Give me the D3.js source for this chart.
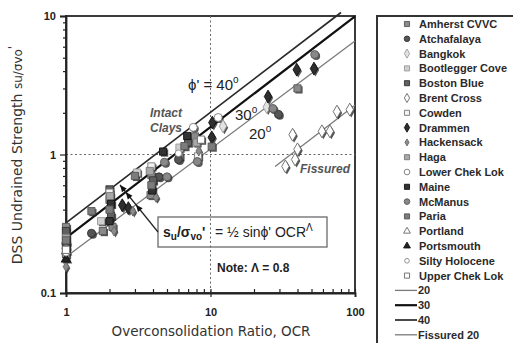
<!DOCTYPE html>
<html>
<head>
<meta charset="utf-8">
<script src="https://cdn.jsdelivr.net/npm/d3@7"></script>
<style>
  html, body { margin: 0; padding: 0; background: #fff; }
  svg { display: block; }
</style>
</head>
<body>
<svg id="chart" width="513" height="343"></svg>
<script>
// ---- Data: [OCR, su/σvo'] pairs for each clay ----
const amherstCVVC   = [[1,0.30],[1,0.19],[1.8,0.28],[2.0,0.47],[2.1,0.30],[3.9,0.71],[3.85,0.51],[6.1,0.97],[7.8,1.35],[40,3.0]];
const atchafalaya   = [[1,0.23],[1.5,0.27],[4.4,0.69],[6.0,0.92],[29.5,1.95]];
const bangkok       = [[1,0.26],[12.2,1.6],[24.5,2.2]];
const bootleggerCove= [[1,0.265],[1.75,0.33],[3.1,0.74],[6.1,1.12]];
const bostonBlue    = [[1,0.28],[2.0,0.56],[2.05,0.36],[4.0,0.65],[7.0,1.22]];
const brentCross    = [[33,0.82],[38.5,0.92],[37,1.39],[40,1.09],[59,1.47],[67,1.47],[75,2.04],[92,2.11]];
const cowden        = [[1,0.235],[2.0,0.53],[3.9,0.82],[8.2,0.97]];
const drammen       = [[2.45,0.43],[2.7,0.41],[10.3,1.70],[10.2,1.33],[25,2.62],[39.5,4.1],[52,4.17]];
const hackensack    = [[1,0.155],[2.15,0.28],[2.9,0.39],[4.2,0.49],[8.3,1.06]];
const haga          = [[1,0.25],[2.02,0.50],[3.8,0.76],[8.0,1.22]];
const lowerChekLok  = [[1,0.225],[7.6,1.57],[11.3,1.85]];
const maine         = [[1,0.22],[2.05,0.44],[2.0,0.33],[3.95,0.55],[4.7,1.05],[6.9,1.36]];
const mcManus       = [[1,0.21],[4.8,0.88],[5.0,0.69],[8.1,0.89],[27,2.15],[52.6,5.27]];
const paria         = [[1,0.24],[1.5,0.39],[2.0,0.40],[3.0,0.70],[3.9,0.60],[6.6,1.15],[10.2,1.14]];
const portland      = [[1,0.20]];
const portsmouth    = [[1,0.175]];
const siltyHolocene = [[1,0.195],[6.0,1.02]];
const upperChekLok  = [[1,0.205],[8.6,1.28]];

// Trend lines su/σvo' = ½ sinϕ' OCR^0.8, as end points [OCR, su/σvo']
const line20       = [[1,0.182],[100,6.6]];
const line30       = [[1,0.25],[100,9.95]];
const line40       = [[1,0.321],[80,10.6]];
const lineFissured = [[28,0.82],[100,2.27]];

// Axis ticks
const xMajorTicks = [1,10,100];
const xTickLabels = ["1","10","100"];
const yMajorTicks = [0.1,1,10];
const yTickLabels = ["0.1","1","10"];

// ---- Series styles ----
const series = [
  {name:"Amherst CVVC",   data:amherstCVVC,    shape:"square",   fill:"#8a8a8a", stroke:"#555"},
  {name:"Atchafalaya",    data:atchafalaya,    shape:"circle",   fill:"#555",    stroke:"#333"},
  {name:"Bangkok",        data:bangkok,        shape:"diamond",  fill:"#e2e2e2", stroke:"#999"},
  {name:"Bootlegger Cove",data:bootleggerCove, shape:"square",   fill:"#cfcfcf", stroke:"#999"},
  {name:"Boston Blue",    data:bostonBlue,     shape:"square",   fill:"#606060", stroke:"#333"},
  {name:"Brent Cross",    data:brentCross,     shape:"diamond",  fill:"#fff",    stroke:"#666"},
  {name:"Cowden",         data:cowden,         shape:"square",   fill:"#f2f2f2", stroke:"#777"},
  {name:"Drammen",        data:drammen,        shape:"diamond",  fill:"#2e2e2e", stroke:"#111"},
  {name:"Hackensack",     data:hackensack,     shape:"sdiamond", fill:"#8c8c8c", stroke:"#666"},
  {name:"Haga",           data:haga,           shape:"square",   fill:"#a8a8a8", stroke:"#777"},
  {name:"Lower Chek Lok", data:lowerChekLok,   shape:"circle",   fill:"#fff",    stroke:"#777"},
  {name:"Maine",          data:maine,          shape:"square",   fill:"#333",    stroke:"#111"},
  {name:"McManus",        data:mcManus,        shape:"circle",   fill:"#888",    stroke:"#555"},
  {name:"Paria",          data:paria,          shape:"square",   fill:"#7c7c7c", stroke:"#555"},
  {name:"Portland",       data:portland,       shape:"triangle", fill:"#fff",    stroke:"#666"},
  {name:"Portsmouth",     data:portsmouth,     shape:"triangle", fill:"#222",    stroke:"#111"},
  {name:"Silty Holocene", data:siltyHolocene,  shape:"scircle",  fill:"#fff",    stroke:"#888"},
  {name:"Upper Chek Lok", data:upperChekLok,   shape:"square",   fill:"#fff",    stroke:"#666"}
];
const lines = [
  {name:"20",          data:line20,       color:"#7a7a7a", width:1.3},
  {name:"30",          data:line30,       color:"#111",    width:2.2},
  {name:"40",          data:line40,       color:"#2a2a2a", width:1.7},
  {name:"Fissured 20", data:lineFissured, color:"#7a7a7a", width:1.3}
];

// ---- Scales ----
const svg = d3.select("#chart");
const plot = {left:66, right:355, top:16, bottom:293};
const x = d3.scaleLog().domain([1,100]).range([plot.left, plot.right]);
const y = d3.scaleLog().domain([0.1,10]).range([plot.bottom, plot.top]);

svg.append("rect").attr("width",513).attr("height",343).attr("fill","#fff");

// Plot frame
svg.append("rect")
  .attr("x",plot.left).attr("y",plot.top)
  .attr("width",plot.right-plot.left).attr("height",plot.bottom-plot.top)
  .attr("fill","#fff").attr("stroke","#3a3a3a").attr("stroke-width",2);

// Dotted reference lines at su/σvo' = 1 and OCR = 10
svg.append("line")
  .attr("x1",plot.left).attr("x2",plot.right).attr("y1",y(1)).attr("y2",y(1))
  .attr("stroke","#666").attr("stroke-width",1).attr("stroke-dasharray","2,2.5");
svg.append("line")
  .attr("x1",x(10)).attr("x2",x(10)).attr("y1",plot.top).attr("y2",plot.bottom)
  .attr("stroke","#666").attr("stroke-width",1).attr("stroke-dasharray","2,2.5");

// ---- Axes ----
const allX = d3.range(0,2).flatMap(d => d3.range(1,10).map(k => k*Math.pow(10,d))).concat([100]);
const allY = d3.range(-1,1).flatMap(d => d3.range(1,10).map(k => k*Math.pow(10,d))).concat([10]);
const isMajor = (list, v) => list.some(m => Math.abs(m-v) < 1e-9);

const yAxis = d3.axisLeft(y).tickValues(allY).tickSize(6)
  .tickFormat(v => { const i = yMajorTicks.findIndex(m => Math.abs(m-v) < 1e-9); return i >= 0 ? yTickLabels[i] : ""; });
const gy = svg.append("g").attr("transform",`translate(${plot.left},0)`).call(yAxis);
gy.select(".domain").attr("stroke","#222").attr("stroke-width",1.8);
gy.selectAll(".tick line").attr("stroke","#222").attr("stroke-width",1.2)
  .attr("x2", v => isMajor(yMajorTicks, v) ? -6 : -3);
gy.selectAll(".tick text").attr("x",-10).attr("dy","0.35em")
  .style("font-family","'Liberation Sans', Arial, sans-serif").style("font-size","11px")
  .style("font-weight","bold").attr("fill","#222");

const xAxis = d3.axisBottom(x).tickValues(allX).tickSize(4)
  .tickFormat(v => { const i = xMajorTicks.findIndex(m => Math.abs(m-v) < 1e-9); return i >= 0 ? xTickLabels[i] : ""; });
const gx = svg.append("g").attr("transform",`translate(0,${plot.bottom})`).call(xAxis);
gx.select(".domain").attr("stroke","#222").attr("stroke-width",1.8);
gx.selectAll(".tick line").attr("stroke","#222").attr("stroke-width",1.2)
  .attr("y1", v => isMajor(xMajorTicks, v) ? 4 : 0)
  .attr("y2", -4);
gx.selectAll(".tick text").attr("y",15).attr("dy","0.71em")
  .style("font-family","'Liberation Sans', Arial, sans-serif").style("font-size","11px")
  .style("font-weight","bold").attr("fill","#222");

// Axis titles
svg.append("text")
  .attr("x",211).attr("y",336).attr("text-anchor","middle")
  .style("font-family","'DejaVu Sans', sans-serif").style("font-size","13.5px").attr("fill","#333")
  .text("Overconsolidation Ratio, OCR");

const yt = svg.append("text")
  .attr("transform","translate(22,155) rotate(-90)").attr("text-anchor","middle")
  .style("font-family","'DejaVu Sans', sans-serif").style("font-size","14px").attr("fill","#333");
yt.append("tspan").text("DSS Undrained Strength ");
yt.append("tspan").style("font-size","12px").text("su/σvo");
yt.append("tspan").style("font-size","12px").attr("dy",-5).text("'");

// ---- Trend lines ----
const lineGen = d3.line().x(d => x(d[0])).y(d => y(d[1]));
svg.selectAll("path.trend").data(lines).enter().append("path")
  .attr("class","trend")
  .attr("d", d => lineGen(d.data))
  .attr("fill","none").attr("stroke", d => d.color).attr("stroke-width", d => d.width);

// ---- Marker shapes ----
function shapePath(shape, scale) {
  const s = scale || 1;
  const map = {
    square:   d3.symbol(d3.symbolSquare, 52*s),
    circle:   d3.symbol(d3.symbolCircle, 50*s),
    scircle:  d3.symbol(d3.symbolCircle, 34*s),
    diamond:  d3.symbol(d3.symbolDiamond, 48*s),
    sdiamond: d3.symbol(d3.symbolDiamond, 28*s),
    triangle: d3.symbol(d3.symbolTriangle, 40*s)
  };
  return map[shape]();
}

// Data points with a dark drop shadow
const pts = series.flatMap(s => s.data.map(d => ({s, ocr:d[0], su:d[1]})));
const gPts = svg.append("g");
gPts.selectAll("path.shadow").data(pts).enter().append("path")
  .attr("class","shadow")
  .attr("d", d => shapePath(d.s.shape))
  .attr("transform", d => `translate(${x(d.ocr)+1.5},${y(d.su)+1.5})`)
  .attr("fill","#1e1e1e").attr("opacity",0.75);
gPts.selectAll("path.pt").data(pts).enter().append("path")
  .attr("class","pt")
  .attr("d", d => shapePath(d.s.shape))
  .attr("transform", d => `translate(${x(d.ocr)},${y(d.su)})`)
  .attr("fill", d => d.s.fill).attr("stroke", d => d.s.stroke).attr("stroke-width",0.9);

// ---- Annotations ----
const annFont = "'Liberation Sans', Arial, sans-serif";
function degLabel(px, py, main) {
  const t = svg.append("text").attr("x",px).attr("y",py)
    .style("font-family",annFont).style("font-size","15px").attr("fill","#222");
  t.append("tspan").text(main);
  t.append("tspan").attr("dy",-7).style("font-size","10px").text("o");
}
degLabel(188, 90, "ϕ' = 40");
degLabel(235, 120, "30");
degLabel(249, 139, "20");

function italicLabel(px, py, str) {
  svg.append("text").attr("x",px).attr("y",py)
    .style("font-family",annFont).style("font-size","12px").style("font-weight","bold")
    .style("font-style","italic").attr("fill","#555").text(str);
}
italicLabel(150, 117, "Intact");
italicLabel(150, 132, "Clays");
italicLabel(300, 173, "Fissured");

// Equation box
const box = {x:158, y:217, w:169, h:30};
svg.append("rect").attr("x",box.x).attr("y",box.y).attr("width",box.w).attr("height",box.h)
  .attr("fill","none").attr("stroke","#6a6a6a").attr("stroke-width",1.3);
const eq = svg.append("text").attr("x",box.x+5).attr("y",box.y+20)
  .style("font-family",annFont).style("font-size","14px").attr("fill","#222");
eq.append("tspan").style("font-weight","bold").text("s");
eq.append("tspan").style("font-weight","bold").style("font-size","10px").attr("dy",3).text("u");
eq.append("tspan").style("font-weight","bold").attr("dy",-3).text("/σ");
eq.append("tspan").style("font-weight","bold").style("font-size","10px").attr("dy",3).text("vo");
eq.append("tspan").style("font-weight","bold").attr("dy",-3).text("'");
eq.append("tspan").attr("x",box.x+57).text("=  ½ sinϕ' OCR");
eq.append("tspan").attr("dy",-6).style("font-size","10px").text("Λ");

svg.append("text").attr("x",217).attr("y",272)
  .style("font-family",annFont).style("font-size","12px").style("font-weight","bold")
  .attr("fill","#222").text("Note:  Λ = 0.8");

// Leader from the equation box to the trend lines, with arrowheads where it meets them
const lead0 = [box.x, box.y+15];
const lead1 = [120, 185];
svg.append("line").attr("x1",lead0[0]).attr("y1",lead0[1]).attr("x2",lead1[0]).attr("y2",lead1[1])
  .attr("stroke","#222").attr("stroke-width",1.2);
function intersect(p1,p2,p3,p4){
  const d = (p1[0]-p2[0])*(p3[1]-p4[1]) - (p1[1]-p2[1])*(p3[0]-p4[0]);
  const t = ((p1[0]-p3[0])*(p3[1]-p4[1]) - (p1[1]-p3[1])*(p3[0]-p4[0]))/d;
  return [p1[0]+t*(p2[0]-p1[0]), p1[1]+t*(p2[1]-p1[1])];
}
const dir = [lead1[0]-lead0[0], lead1[1]-lead0[1]];
const len = Math.hypot(dir[0],dir[1]);
const u = [dir[0]/len, dir[1]/len], nrm = [-u[1], u[0]];
function arrowHead(tip){
  const b = [tip[0]-u[0]*7, tip[1]-u[1]*7];
  svg.append("path")
    .attr("d",`M${tip[0]},${tip[1]}L${b[0]+nrm[0]*3},${b[1]+nrm[1]*3}L${b[0]-nrm[0]*3},${b[1]-nrm[1]*3}Z`)
    .attr("fill","#111");
}
arrowHead(lead1);
[line20, line30].forEach(L => {
  arrowHead(intersect(lead0, lead1, [x(L[0][0]),y(L[0][1])], [x(L[1][0]),y(L[1][1])]));
});

// ---- Legend ----
const leg = svg.append("g");
leg.append("rect").attr("x",377).attr("y",16).attr("width",150).attr("height",340)
  .attr("fill","#fff").attr("stroke","#333").attr("stroke-width",2);
const rowY = i => 24 + i*14.8;
const legText = (g, tx, ty, str) => g.append("text").attr("x",tx).attr("y",ty).attr("dy","0.36em")
  .style("font-family",annFont).style("font-size","11px").style("font-weight","bold")
  .attr("fill","#2a2a2a").text(str);
series.forEach((s,i) => {
  leg.append("path").attr("d", shapePath(s.shape, 0.5))
    .attr("transform",`translate(407,${rowY(i)})`)
    .attr("fill", s.fill).attr("stroke", s.stroke).attr("stroke-width",0.9);
  legText(leg, 419, rowY(i), s.name);
});
lines.forEach((l,j) => {
  const i = series.length + j;
  leg.append("line").attr("x1",395).attr("x2",417).attr("y1",rowY(i)).attr("y2",rowY(i))
    .attr("stroke", l.color).attr("stroke-width", l.width);
  legText(leg, 418, rowY(i), l.name);
});
</script>
</body>
</html>
